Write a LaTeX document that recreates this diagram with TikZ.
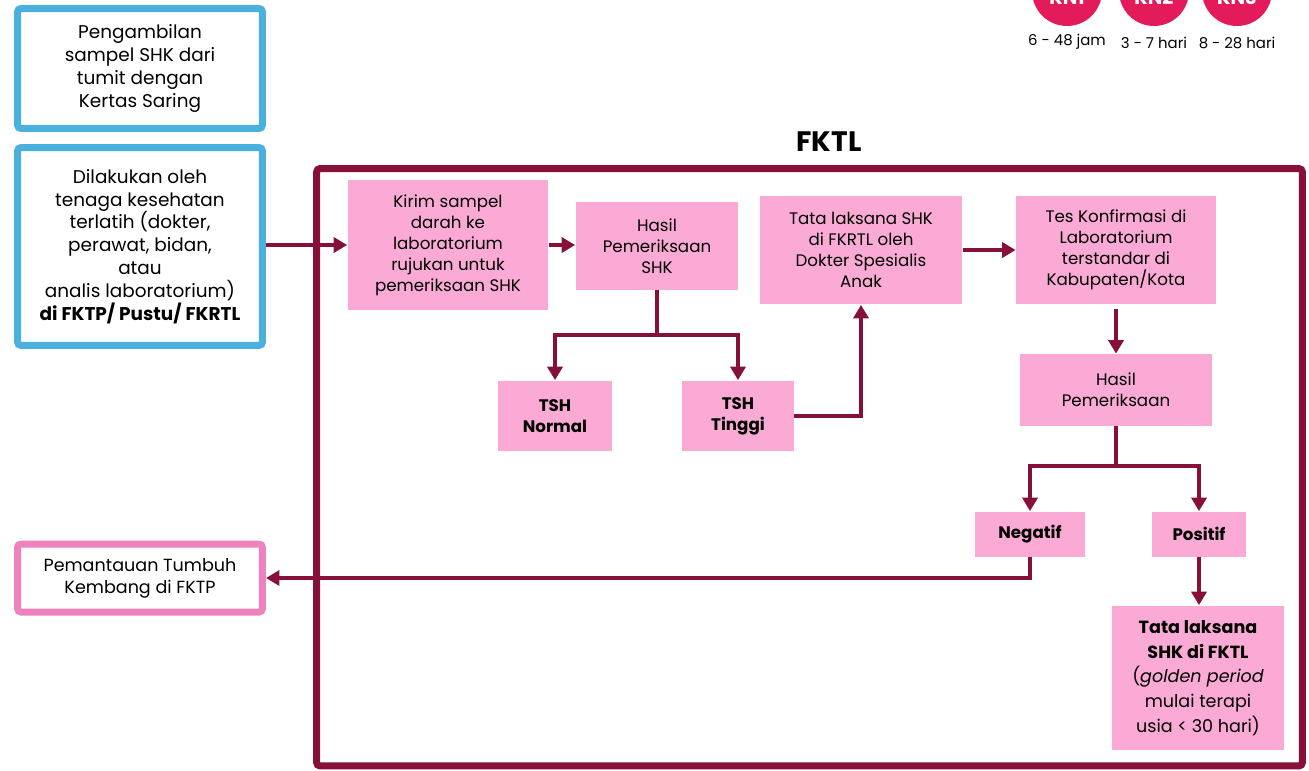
\documentclass[tikz,border=0pt]{standalone}
\usepackage{fontspec}
\setmainfont{Poppins}
\usetikzlibrary{arrows.meta,positioning}

\definecolor{maroon}{RGB}{135,16,58}
\definecolor{pinkfill}{RGB}{250,170,212}
\definecolor{blueline}{RGB}{74,176,222}
\definecolor{pinkline}{RGB}{238,130,188}
\definecolor{kncol}{RGB}{228,27,90}

\tikzset{
  step box/.style={fill=pinkfill, align=center, inner sep=2pt, font=\fontsize{9.5}{12}\selectfont},
  side box/.style={draw=blueline, line width=0.14cm, rounded corners=2pt, fill=white, align=center, font=\fontsize{10.5}{13}\selectfont},
  flow/.style={draw=maroon, line width=0.08cm, -{Triangle[length=0.27cm,width=0.3cm]}},
  flowline/.style={draw=maroon, line width=0.08cm},
  kn/.style={circle, fill=kncol, minimum size=1.4cm, inner sep=0pt},
  kn time/.style={font=\fontsize{8.5}{10}\selectfont, inner sep=1pt},
}

\begin{document}
\begin{tikzpicture}[x=0.02cm,y=-0.02cm]
  \useasboundingbox (0,0) rectangle (1309,771);
  \clip (0,0) rectangle (1309,771);

  % kunjungan neonatal
  \node[name=kn1, kn] at (1067,-9) {};
  \node[name=kn2, kn] at (1154,-9) {};
  \node[name=kn3, kn] at (1237,-9) {};
  \node[text=white, font=\bfseries\fontsize{11}{13}\selectfont] at (1067,-3) {KN1};
  \node[text=white, font=\bfseries\fontsize{11}{13}\selectfont] at (1154,-3) {KN2};
  \node[text=white, font=\bfseries\fontsize{11}{13}\selectfont] at (1237,-3) {KN3};
  \node[kn time, below=0.12cm of kn1] {6 - 48 jam};
  \node[kn time, below=0.18cm of kn2] {3 - 7 hari};
  \node[kn time, below=0.18cm of kn3] {8 - 28 hari};

  % kotak kiri
  \node[name=ambil, side box, minimum width=4.9cm, minimum height=2.4cm] at (140,68.5)
    {Pengambilan\\sampel SHK dari\\tumit dengan\\Kertas Saring};
  \node[name=petugas, side box, minimum width=4.9cm, minimum height=3.96cm] at (140,246.5)
    {Dilakukan oleh\\tenaga kesehatan\\terlatih (dokter,\\perawat, bidan,\\atau\\analis laboratorium)\\\textbf{di FKTP/ Pustu/ FKRTL}};
  \node[name=pantau, side box, draw=pinkline, minimum width=4.9cm, minimum height=1.36cm,
        font=\fontsize{10}{12.5}\selectfont] at (140,578)
    {Pemantauan Tumbuh\\Kembang di FKTP};

  % FKTL
  \node[name=frame, draw=maroon, line width=0.14cm, rounded corners=2pt,
        minimum width=19.72cm, minimum height=11.95cm] at (809.5,467.25) {};
  \node[name=fktl, font=\bfseries\fontsize{16}{18}\selectfont] at (829,142) {FKTL};

  \node[name=kirim, step box, minimum width=4.02cm, minimum height=2.6cm] at (448,245)
    {Kirim sampel\\darah ke\\laboratorium\\rujukan untuk\\pemeriksaan SHK};
  \node[name=hasil, step box, minimum width=3.26cm, minimum height=1.76cm] at (657,246)
    {Hasil\\Pemeriksaan\\SHK};
  \node[name=tata, step box, minimum width=4.06cm, minimum height=2.18cm] at (861,250)
    {Tata laksana SHK\\di FKRTL oleh\\Dokter Spesialis\\Anak};
  \node[name=tes, step box, minimum width=4cm, minimum height=2.18cm] at (1116,250)
    {Tes Konfirmasi di\\Laboratorium\\terstandar di\\Kabupaten/Kota};
  \node[name=hasilk, step box, minimum width=3.86cm, minimum height=1.44cm] at (1116,390)
    {Hasil\\Pemeriksaan};
  \node[name=tshn, step box, minimum width=2.28cm, minimum height=1.42cm, font=\bfseries\fontsize{9.5}{12}\selectfont] at (555,416)
    {TSH\\Normal};
  \node[name=tsht, step box, minimum width=2.24cm, minimum height=1.42cm, font=\bfseries\fontsize{9.5}{12}\selectfont] at (738,416)
    {TSH\\Tinggi};
  \node[name=neg, step box, minimum width=2.22cm, minimum height=0.9cm, font=\bfseries\fontsize{9.5}{12}\selectfont] at (1030,534)
    {Negatif};
  \node[name=pos, step box, minimum width=1.88cm, minimum height=0.9cm, font=\bfseries\fontsize{9.5}{12}\selectfont] at (1199,534)
    {Positif};
  \node[name=terapi, step box, minimum width=3.46cm, minimum height=2.9cm, font=\fontsize{10}{14}\selectfont] at (1198,678)
    {\textbf{Tata laksana}\\\textbf{SHK di FKTL}\\(\textit{golden period}\\mulai terapi\\usia < 30 hari)};

  % alur
  \draw[flow] (kirim.west -| petugas.east) -- (kirim.west);
  \draw[flow] (kirim.east) -- (kirim.east -| hasil.west);
  \draw[flowline] (hasil.south) -- ++(0,45) coordinate (cabang1);
  \draw[flow] (cabang1) -| (tshn.north);
  \draw[flow] (cabang1) -| (tsht.north);
  \draw[flow] (tsht.east) -| (tata.south);
  \draw[flow] (tata.east) -- (tata.east -| tes.west);
  \draw[flow] ([yshift=-0.08cm]tes.south) -- (hasilk.north);
  \draw[flowline] (hasilk.south) -- ++(0,40) coordinate (cabang2);
  \draw[flow] (cabang2) -| (neg.north);
  \draw[flow] (cabang2) -| (pos.north);
  \draw[flow] (neg.south) |- (pantau.east);
  \draw[flow] (pos.south) -- (pos.south |- terapi.north);
\end{tikzpicture}
\end{document}
